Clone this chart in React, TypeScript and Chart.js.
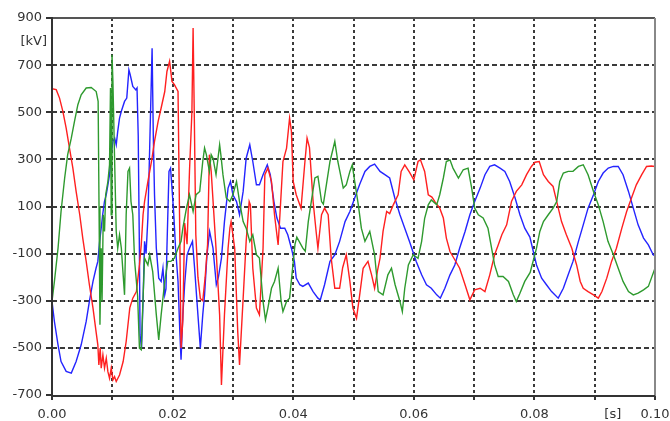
import React, { useEffect, useRef } from 'react';
import { Chart, registerables } from 'chart.js';

Chart.register(...registerables);

// time axis in milliseconds (labels shown in seconds)
const xTickValues = [0, 10, 20, 30, 40, 50, 60, 70, 80, 90, 100];
const yTickValues = [-700, -500, -300, -100, 100, 300, 500, 700, 900];

const redT = [0, 0.7, 1.25, 1.8, 2.35, 2.9, 3.46, 4.0, 4.6, 5.1, 5.67, 6.2, 6.8, 7.3, 7.6, 7.77, 7.99, 8.16, 8.44, 8.71, 9.0, 9.27, 9.54, 9.82, 10.1, 10.37, 10.65, 11.2, 11.8, 12.3, 12.9, 13.4, 14.0, 14.5, 14.8, 15.1, 15.35, 15.9, 16.5, 17.0, 17.6, 18.1, 18.7, 19.06, 19.5, 19.9, 20.3, 20.9, 21.15, 21.4, 21.7, 22.0, 22.4, 22.8, 23.2, 23.4, 23.6, 23.85, 24.2, 24.6, 25.0, 25.4, 25.8, 26.1, 26.4, 27.2, 27.8, 28.1, 28.6, 29.2, 29.5, 29.7, 30.3, 30.8, 31.1, 31.7, 32.2, 32.7, 32.9, 33.3, 33.9, 34.4, 35.0, 35.3, 35.8, 36.4, 36.9, 37.5, 37.8, 38.3, 38.9, 39.4, 39.7, 40.0, 40.5, 41.3, 41.9, 42.3, 42.7, 43.3, 43.8, 44.1, 44.7, 45.2, 45.8, 46.3, 46.9, 47.7, 48.2, 48.8, 49.4, 49.9, 50.5, 51.0, 51.6, 52.4, 53.0, 53.5, 54.0, 54.4, 54.9, 55.5, 56.0, 56.6, 57.4, 57.9, 58.5, 59.3, 60.0, 60.7, 61.1, 61.8, 62.4, 63.0, 63.5, 64.3, 64.9, 65.4, 66.0, 66.8, 67.6, 68.5, 69.3, 70.1, 71.0, 71.8, 72.6, 73.4, 74.0, 74.6, 75.4, 76.2, 77.0, 77.9, 78.7, 79.5, 80.1, 80.8, 81.5, 82.3, 83.1, 83.7, 84.5, 85.3, 86.2, 87.0, 87.6, 88.1, 88.9, 89.8, 90.6, 91.2, 92.0, 92.8, 93.6, 94.5, 95.3, 96.1, 96.9, 97.8, 98.6, 99.4, 100];
const redV = [600, 596, 560, 504, 433, 348, 263, 164, 65, -34, -133, -232, -331, -430, -487, -572, -501, -586, -530, -586, -544, -601, -629, -586, -636, -622, -643, -615, -558, -473, -330, -289, -261, -148, -63, 65, 121, 206, 291, 376, 461, 518, 588, 673, 716, 631, 617, 588, 65, -501, -380, 30, -60, 250, 500, 857, 480, -20, -200, -290, -300, -200, -60, 320, 249, -77, -360, -657, -360, -77, 8, 36, -77, -430, -572, -289, -48, 121, 107, -162, -331, -360, -77, 235, 263, 206, 65, -63, 65, 291, 348, 475, 420, 206, 150, 93, 277, 390, 350, 121, -6, -77, 65, 93, 65, -119, -247, -247, -160, -105, -218, -331, -374, -280, -162, -133, -190, -247, -170, -119, -6, 79, 70, 107, 150, 249, 277, 245, 213, 291, 298, 249, 150, 140, 121, 93, 51, -34, -91, -126, -162, -232, -296, -254, -247, -261, -190, -105, -63, -20, 22, 121, 164, 192, 235, 270, 288, 291, 235, 206, 185, 121, 36, -20, -77, -148, -218, -247, -261, -275, -289, -261, -204, -133, -77, 8, 79, 136, 192, 235, 270, 272, 270];

const greenT = [0, 0.4, 1.0, 1.5, 2.1, 2.6, 3.2, 3.73, 4.29, 4.84, 5.67, 6.5, 7.33, 7.65, 7.8, 7.95, 8.16, 8.3, 8.5, 8.71, 8.9, 9.27, 9.54, 9.7, 9.82, 9.95, 10.1, 10.4, 10.65, 10.9, 11.2, 11.5, 11.8, 12.03, 12.3, 12.6, 12.86, 13.1, 13.4, 13.7, 14.2, 14.5, 14.8, 15.1, 15.35, 15.9, 16.2, 16.7, 17.3, 17.7, 18.1, 18.7, 19.2, 19.7, 20.3, 20.9, 21.4, 21.7, 22.3, 22.8, 23.4, 23.9, 24.5, 25.0, 25.3, 25.6, 26.1, 26.4, 26.7, 27.2, 27.8, 28.0, 28.35, 28.9, 29.5, 30.0, 30.6, 31.1, 31.7, 32.2, 32.8, 33.3, 33.9, 34.4, 35.0, 35.4, 35.8, 36.4, 36.9, 37.5, 38.0, 38.3, 38.9, 39.4, 39.9, 40.3, 40.6, 41.6, 42.0, 42.5, 43.0, 43.6, 44.1, 44.7, 45.0, 45.5, 46.1, 46.9, 47.4, 48.3, 48.8, 49.4, 49.8, 50.2, 50.8, 51.3, 51.9, 52.7, 53.5, 54.1, 54.9, 55.7, 56.3, 56.9, 57.7, 58.1, 58.5, 59.1, 59.9, 60.7, 61.3, 61.8, 62.4, 62.9, 63.8, 64.3, 64.9, 65.4, 66.0, 66.5, 67.4, 68.2, 69.0, 69.6, 70.1, 70.7, 71.5, 72.3, 72.9, 73.4, 74.0, 74.8, 75.7, 76.5, 77.0, 77.6, 78.4, 79.3, 80.35, 80.9, 81.5, 82.3, 83.1, 83.7, 84.2, 84.8, 85.6, 86.4, 87.3, 88.1, 88.9, 89.8, 90.6, 91.4, 92.2, 93.1, 93.9, 94.7, 95.6, 96.4, 97.2, 98.1, 98.9, 99.4, 100];
const greenV = [-303, -218, -77, 79, 221, 320, 390, 461, 532, 574, 603, 605, 588, 546, 100, -402, -77, -303, 65, -6, 150, 206, 277, 603, 65, 744, 631, 277, -6, -77, -20, -77, -190, -275, 65, 249, 263, 121, 65, -130, -280, -501, -508, -289, -119, -148, -105, -176, -360, -466, -360, -218, -133, -133, -119, -77, -48, 8, 93, 150, 79, 150, 164, 291, 348, 320, 249, 320, 305, 235, 362, 320, 235, 136, 121, 150, 206, 121, 36, 8, -48, -20, -105, -119, -303, -381, -331, -247, -218, -162, -303, -346, -303, -289, -162, -60, -30, -77, -90, 36, 121, 221, 228, 121, 110, 192, 291, 376, 291, 178, 192, 249, 277, 206, 107, 8, -48, -6, -105, -261, -275, -190, -162, -232, -303, -346, -247, -148, -105, -120, -48, 50, 107, 128, 107, 150, 221, 291, 298, 263, 221, 256, 263, 178, 93, 65, 51, 8, -77, -148, -197, -197, -218, -275, -303, -268, -218, -180, -77, -6, 36, 65, 93, 121, 206, 242, 249, 249, 270, 277, 235, 164, 107, 36, -48, -105, -162, -218, -261, -275, -268, -254, -239, -204, -162];

const blueT = [0, 0.4, 1.0, 1.5, 2.35, 3.2, 4.0, 4.84, 5.67, 6.2, 6.8, 7.3, 7.6, 7.9, 8.16, 8.4, 8.7, 9.0, 9.27, 9.54, 9.82, 10.1, 10.4, 10.65, 10.9, 11.2, 11.5, 12.03, 12.4, 12.75, 12.97, 13.4, 13.9, 14.1, 14.3, 14.5, 14.6, 14.85, 15.1, 15.35, 15.6, 15.9, 16.2, 16.6, 16.8, 17.0, 17.3, 17.7, 18.1, 18.4, 18.7, 18.9, 19.06, 19.4, 19.66, 19.9, 20.2, 20.5, 20.9, 21.2, 21.4, 21.7, 22.0, 22.4, 22.8, 23.3, 23.65, 24.2, 24.6, 25.0, 25.3, 25.7, 26.14, 26.7, 27.25, 27.6, 28.1, 28.6, 29.2, 29.6, 30.0, 30.6, 31.1, 31.7, 32.2, 32.8, 33.3, 33.9, 34.4, 35.0, 35.7, 36.2, 36.8, 37.3, 37.9, 38.6, 39.1, 39.7, 40.2, 40.5, 41.1, 41.6, 42.5, 43.3, 44.1, 44.5, 45.2, 46.1, 46.9, 47.7, 48.6, 49.4, 50.2, 51.0, 51.9, 52.7, 53.5, 54.4, 55.2, 56.0, 56.85, 57.7, 58.5, 59.3, 60.4, 61.3, 62.1, 62.9, 63.8, 64.4, 65.15, 66.0, 66.8, 67.6, 68.5, 69.3, 70.1, 71.0, 71.8, 72.6, 73.4, 74.3, 75.1, 75.9, 76.8, 77.6, 78.4, 79.25, 80.35, 81.2, 82.0, 82.85, 83.95, 84.8, 85.6, 86.4, 87.3, 88.1, 88.9, 89.8, 90.6, 91.4, 92.25, 93.1, 93.9, 94.7, 95.6, 96.4, 97.2, 98.1, 98.9, 99.7, 100];
const blueV = [-303, -388, -487, -558, -600, -607, -558, -487, -388, -303, -218, -162, -133, -48, 8, 65, 121, 150, 192, 235, 320, 376, 390, 362, 419, 475, 504, 546, 560, 680, 659, 610, 595, 603, 400, -100, -445, -501, -300, -48, -100, 50, 348, 772, 400, 150, -77, -204, -218, -162, -275, -250, -77, 249, 263, 178, 65, -80, -218, -430, -550, -360, -230, -105, -77, -48, -162, -360, -501, -360, -275, -105, -6, -77, -232, -200, -119, 36, 178, 206, 150, 121, 65, 164, 305, 362, 291, 192, 192, 235, 277, 235, 121, 51, 8, 8, -20, -77, -133, -204, -232, -239, -225, -261, -289, -296, -232, -133, -105, -48, 36, 79, 136, 192, 249, 270, 280, 249, 235, 221, 136, 65, 8, -50, -133, -190, -232, -247, -275, -289, -247, -190, -148, -77, -6, 65, 121, 178, 235, 270, 277, 263, 249, 206, 136, 65, 8, -30, -148, -204, -232, -261, -289, -247, -190, -133, -48, 22, 93, 150, 206, 242, 263, 270, 270, 235, 164, 93, 22, -34, -63, -105, -110];

const toPoints = (t: number[], v: number[]) => t.map((x, i) => ({ x, y: v[i] }));

const FONT = '"DejaVu Sans", Verdana, sans-serif';

const gridPlugin = {
  id: 'dashedGrid',
  // dashed grid under the curves, placed from the chart's own scales
  beforeDatasetsDraw(chart: any) {
    const { ctx, chartArea: a, scales } = chart;
    const { left, right, top, bottom } = a;
    ctx.save();
    ctx.strokeStyle = '#3a3a3a';
    ctx.lineWidth = 2;
    ctx.setLineDash([5, 3]);
    for (let i = 1; i < yTickValues.length - 1; i++) {
      const y = Math.round(scales.y.getPixelForValue(yTickValues[i]));
      ctx.beginPath();
      ctx.moveTo(left, y);
      ctx.lineTo(right, y);
      ctx.stroke();
    }
    ctx.setLineDash([3, 3]);
    for (let i = 1; i < xTickValues.length - 1; i++) {
      const x = Math.round(scales.x.getPixelForValue(xTickValues[i]));
      ctx.beginPath();
      ctx.moveTo(x, top);
      ctx.lineTo(x, bottom);
      ctx.stroke();
    }
    ctx.setLineDash([]);
    ctx.restore();
  },
  afterDraw(chart: any) {
    const { ctx, chartArea: a, scales } = chart;
    const { left, right, top, bottom } = a;
    const Y = (v: number) => scales.y.getPixelForValue(v);
    const X = (v: number) => scales.x.getPixelForValue(v);
    ctx.save();
    ctx.strokeStyle = '#333';
    ctx.lineWidth = 2;
    for (let i = 0; i < yTickValues.length; i++) {
      const y = Math.round(Y(yTickValues[i]));
      ctx.beginPath();
      ctx.moveTo(left - 6, y);
      ctx.lineTo(left, y);
      ctx.stroke();
    }
    for (let i = 0; i < xTickValues.length; i++) {
      const x = Math.round(X(xTickValues[i]));
      ctx.beginPath();
      ctx.moveTo(x, bottom);
      ctx.lineTo(x, bottom + 5);
      ctx.stroke();
    }
    ctx.strokeStyle = '#555';
    ctx.beginPath();
    ctx.moveTo(left - 1, top);
    ctx.lineTo(right, top);
    ctx.stroke();
    ctx.strokeStyle = '#888';
    ctx.beginPath();
    ctx.moveTo(right, top);
    ctx.lineTo(right, bottom + 1);
    ctx.stroke();
    ctx.strokeStyle = '#333';
    ctx.beginPath();
    ctx.moveTo(left, top - 1);
    ctx.lineTo(left, bottom + 1);
    ctx.lineTo(right, bottom + 1);
    ctx.stroke();
    ctx.fillStyle = '#333';
    ctx.font = '13px ' + FONT;
    ctx.textAlign = 'right';
    ctx.textBaseline = 'middle';
    ctx.fillText('[kV]', left - 5, Y(800));
    ctx.textAlign = 'center';
    ctx.fillText('[s]', X(93), bottom + 20);
    ctx.restore();
  },
};

export default function App() {
  const ref = useRef<HTMLCanvasElement>(null);

  useEffect(() => {
    const canvas = ref.current;
    if (!canvas) return;
    const line = (label: string, t: number[], v: number[], color: string) => ({
      label,
      data: toPoints(t, v),
      borderColor: color,
      backgroundColor: color,
      borderWidth: 1.4,
      pointRadius: 0,
      tension: 0,
      fill: false,
    });
    const chart = new Chart(canvas, {
      type: 'line',
      data: {
        datasets: [
          line('Phase G', greenT, greenV, '#2e9a2e'),
          line('Phase R', redT, redV, '#ff2020'),
          line('Phase B', blueT, blueV, '#2424ff'),
        ],
      },
      options: {
        responsive: false,
        animation: false,
        devicePixelRatio: 1,
        parsing: false,
        layout: { padding: { left: 0, right: 15, top: 18, bottom: 0 } },
        plugins: { legend: { display: false }, tooltip: { enabled: false } },
        scales: {
          x: {
            type: 'linear',
            min: 0,
            max: 100,
            afterBuildTicks: (s: any) => {
              s.ticks = xTickValues.map((value) => ({ value }));
            },
            afterFit: (s: any) => {
              s.height = 26;
              s.paddingLeft = 0;
              s.paddingRight = 0;
            },
            ticks: {
              autoSkip: false,
              maxRotation: 0,
              padding: 12,
              color: '#333',
              font: { family: FONT, size: 13 },
              callback: (v: any) => (Number(v) % 20 === 0 ? (Number(v) / 1000).toFixed(2) : ''),
            },
            grid: { display: false, drawTicks: false, drawOnChartArea: false },
            border: { display: false },
          },
          y: {
            type: 'linear',
            min: -700,
            max: 900,
            afterBuildTicks: (s: any) => {
              s.ticks = yTickValues.map((value) => ({ value }));
            },
            afterFit: (s: any) => {
              s.width = 52;
              s.paddingTop = 0;
              s.paddingBottom = 0;
            },
            ticks: {
              autoSkip: false,
              padding: 10,
              color: '#333',
              font: { family: FONT, size: 13 },
              callback: (v: any) => String(v),
            },
            grid: { display: false, drawTicks: false, drawOnChartArea: false },
            border: { display: false },
          },
        },
      },
      plugins: [gridPlugin],
    } as any);
    return () => chart.destroy();
  }, []);

  return (
    <div style={{ position: 'fixed', left: 0, top: 0, width: 670, height: 421, background: '#fff' }}>
      <canvas ref={ref} width={670} height={421} style={{ width: 670, height: 421, display: 'block' }} />
    </div>
  );
}
